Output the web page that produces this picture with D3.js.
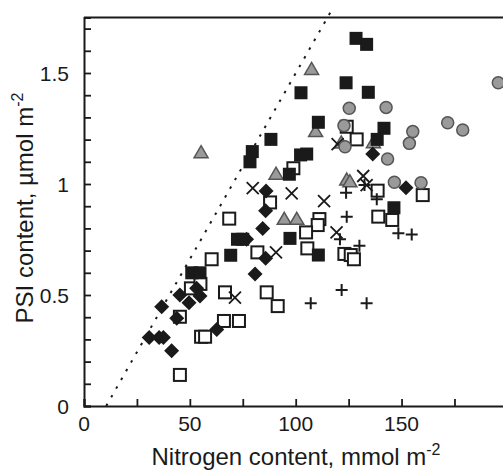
<!DOCTYPE html>
<html><head><meta charset="utf-8">
<script src="https://cdn.jsdelivr.net/npm/d3@7"></script>
<style>body{margin:0;background:#fff}svg{display:block}</style>
</head><body>
<script>
const xTicks=[0,50,100,150];
const yTicks=[0,0.5,1,1.5];
const yTickLabels=["0","0.5","1","1.5"];
const filledSquares=[[128.5,1.656],[133.5,1.629],[102.5,1.411],[123.8,1.456],[134.3,1.413],[110.7,1.278],[141.7,1.251],[138.5,1.201],[88.3,1.201],[79.5,1.146],[78.4,1.100],[102.3,1.131],[105.2,1.135],[97,1.044],[146.4,0.893],[97.3,0.755],[72.5,0.751],[75,0.751],[69.3,0.679],[110.7,0.680],[50.9,0.600],[54.8,0.600]];
const openSquares=[[124.1,1.258],[128.8,1.201],[98.9,1.071],[87.9,0.917],[68.6,0.844],[138.7,0.970],[160.0,0.950],[111.2,0.842],[110.4,0.815],[104.9,0.782],[139.0,0.853],[145.6,0.838],[105.5,0.710],[81.9,0.692],[123.0,0.685],[126.0,0.680],[127.5,0.661],[60.3,0.661],[50.5,0.530],[55.0,0.550],[66.6,0.512],[86.3,0.512],[91.5,0.450],[45.3,0.402],[66.1,0.383],[73.2,0.383],[55.3,0.312],[57.2,0.312],[45.3,0.140]];
const diamonds=[[136.4,1.135],[152.1,0.983],[86.0,0.968],[85.8,0.880],[84.4,0.800],[76.8,0.751],[85.8,0.665],[80.8,0.595],[45.3,0.500],[49.6,0.465],[53.2,0.530],[54.8,0.495],[36.7,0.447],[43.8,0.395],[30.8,0.309],[35.5,0.309],[37.5,0.309],[41.4,0.249],[62.7,0.345]];
const circles=[[195.7,1.456],[125.3,1.341],[142.7,1.345],[122.8,1.263],[171.8,1.276],[178.9,1.243],[155.3,1.236],[153.7,1.183],[123.3,1.168],[143.4,1.113],[146.6,1.008],[159.2,1.006]];
const triangles=[[107.5,1.516],[55.3,1.141],[109.4,1.236],[136.7,1.186],[121.5,1.185],[90.7,1.044],[124.1,1.018],[125.6,1.010],[94.6,0.841],[100.5,0.841]];
const crosses=[[79.7,0.981],[98.1,0.958],[113.4,0.923],[119.8,1.180],[131.9,1.036],[133.5,0.995],[119.3,0.782],[90.7,0.692],[71.3,0.488]];
const pluses=[[123.8,0.961],[124.1,0.853],[120.9,0.751],[130.1,0.722],[138.3,0.931],[148.5,0.778],[154.8,0.773],[121.7,0.523],[107.1,0.463],[133.5,0.463],[132.5,0.995]];
const refLine=[[10.5,0],[116.5,1.775]];

const W=503,H=472;
const svg=d3.select("body").append("svg").attr("width",W).attr("height",H);
const x=d3.scaleLinear().domain([0,200]).range([84,507.4]);
const y=d3.scaleLinear().domain([0,1.75]).range([406,17.5]);
const font="Liberation Sans, Arial, sans-serif";

// frame
svg.append("line").attr("x1",84).attr("x2",510).attr("y1",y(1.75)).attr("y2",y(1.75)).attr("stroke","#1a1a1a").attr("stroke-width",2);
// axes with inward ticks
const xAx=svg.append("g").attr("transform","translate(0,406)")
  .call(d3.axisBottom(x).tickValues(d3.range(0,201,25)).tickSize(-7).tickFormat(""));
const yAx=svg.append("g").attr("transform","translate(84,0)")
  .call(d3.axisLeft(y).tickValues(d3.range(0,1.76,0.1)).tickSize(-7).tickFormat(""));
[xAx,yAx].forEach(g=>{g.select(".domain").attr("stroke","#1a1a1a").attr("stroke-width",2);
  g.selectAll(".tick line").attr("stroke","#1a1a1a").attr("stroke-width",1.8);});
// tick labels
svg.selectAll(".xl").data(xTicks).enter().append("text").attr("x",d=>x(d)).attr("y",431)
  .attr("text-anchor","middle").attr("font-family",font).attr("font-size",21).attr("fill","#1a1a1a").text(d=>d);
svg.selectAll(".yl").data(yTicks).enter().append("text").attr("x",69).attr("y",d=>y(d)+7.5)
  .attr("text-anchor","end").attr("font-family",font).attr("font-size",21).attr("fill","#1a1a1a").text((d,i)=>yTickLabels[i]);
// axis titles
const xt=svg.append("text").attr("x",296).attr("y",465).attr("text-anchor","middle").attr("font-family",font).attr("font-size",24).attr("fill","#1a1a1a");
xt.append("tspan").text("Nitrogen content, mmol m");
xt.append("tspan").attr("dy",-10).attr("font-size",16).text("-2");
const yt=svg.append("text").attr("transform","translate(33,208) rotate(-90)").attr("text-anchor","middle").attr("font-family",font).attr("font-size",24).attr("fill","#1a1a1a");
yt.append("tspan").text("PSI content, \u00b5mol m");
yt.append("tspan").attr("dy",-10).attr("font-size",16).text("-2");

// reference dotted line
svg.append("line").attr("x1",x(refLine[0][0])).attr("y1",y(refLine[0][1])).attr("x2",x(refLine[1][0])).attr("y2",y(refLine[1][1]))
  .attr("stroke","#1a1a1a").attr("stroke-width",2).attr("stroke-dasharray","2.5,7.5");

const S=12;
// open squares
svg.selectAll(".os").data(openSquares).enter().append("rect")
  .attr("x",d=>x(d[0])-S/2).attr("y",d=>y(d[1])-S/2).attr("width",S).attr("height",S)
  .attr("fill","#fff").attr("stroke","#1a1a1a").attr("stroke-width",2);
// triangles
svg.selectAll(".tr").data(triangles).enter().append("path")
  .attr("d",d=>{const cx=x(d[0]),cy=y(d[1]);return `M${cx},${cy-7}L${cx+7},${cy+5}L${cx-7},${cy+5}Z`;})
  .attr("fill","#9a9a9a").attr("stroke","#555").attr("stroke-width",1.5);
// crosses
svg.selectAll(".cx").data(crosses).enter().append("path")
  .attr("d",d=>{const cx=x(d[0]),cy=y(d[1]),r=6;return `M${cx-r},${cy-r}L${cx+r},${cy+r}M${cx-r},${cy+r}L${cx+r},${cy-r}`;})
  .attr("stroke","#1a1a1a").attr("stroke-width",1.8).attr("fill","none");
// pluses
svg.selectAll(".pl").data(pluses).enter().append("path")
  .attr("d",d=>{const cx=x(d[0]),cy=y(d[1]),r=6;return `M${cx-r},${cy}L${cx+r},${cy}M${cx},${cy-r}L${cx},${cy+r}`;})
  .attr("stroke","#1a1a1a").attr("stroke-width",2).attr("fill","none");
// diamonds
svg.selectAll(".dm").data(diamonds).enter().append("path")
  .attr("d",d=>{const cx=x(d[0]),cy=y(d[1]),r=7.5;return `M${cx},${cy-r}L${cx+r},${cy}L${cx},${cy+r}L${cx-r},${cy}Z`;})
  .attr("fill","#1a1a1a");
// filled squares
svg.selectAll(".fs").data(filledSquares).enter().append("rect")
  .attr("x",d=>x(d[0])-S/2-0.5).attr("y",d=>y(d[1])-S/2-0.5).attr("width",S+1).attr("height",S+1)
  .attr("fill","#1a1a1a");
// circles
svg.selectAll(".ci").data(circles).enter().append("circle")
  .attr("cx",d=>x(d[0])).attr("cy",d=>y(d[1])).attr("r",6)
  .attr("fill","#9a9a9a").attr("stroke","#555").attr("stroke-width",1.5);
</script>
</body></html>
